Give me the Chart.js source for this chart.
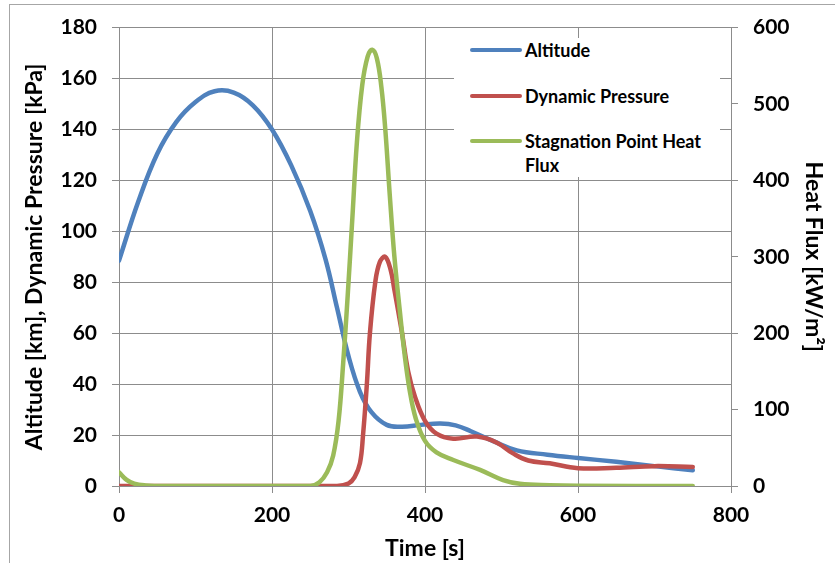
<!DOCTYPE html>
<html lang="en">
<head>
  <meta charset="UTF-8">
  <title>Altitude, Dynamic Pressure and Heat Flux</title>
  <script src="https://cdn.jsdelivr.net/npm/chart.js"></script>
  <style>
    body {
      margin: 0;
      background: #fff;
      font-family: Lato, "Open Sans", sans-serif;
    }

    #wrap {
      position: relative;
      width: 835px;
      height: 563px;
      overflow: hidden;
    }

    #frame {
      position: absolute;
      left: 9px;
      top: 4px;
      width: 900px;
      height: 700px;
      border: 1px solid #a6a6a6;
    }

    canvas {
      position: absolute;
      left: 0;
      top: 0;
    }

    #legend {
      position: absolute;
      left: 454px;
      top: 38px;
      width: 266px;
      height: 139px;
      background: #fff;
    }

    .item {
      position: absolute;
      left: 16px;
      font-weight: bold;
      font-size: 18px;
      line-height: 24px;
      color: #000;
    }

    .swatch {
      position: absolute;
      left: 0;
      top: 10px;
      width: 52px;
      height: 4px;
      border-radius: 2px;
    }

    .item span {
      display: block;
      margin-left: 55px;
      width: 190px;
    }
  </style>
</head>
<body>
  <div id="wrap">
    <div id="frame"></div>
    <canvas id="chart" width="835" height="563"></canvas>
    <div id="legend"></div>
  </div>

  <script>
    // values
    const altTime = [0, 25, 50, 75, 100, 125, 150, 175, 200, 225, 250, 270, 285, 300, 315, 330, 350, 370, 395, 420, 440, 460, 490, 520, 560, 600, 650, 700, 750];
    const altitude = [88.5, 111.5, 130.5, 143, 150.8, 155, 154.5, 149.5, 140, 126, 108, 89, 70, 51, 37, 29, 24, 23.3, 24, 24.5, 23.8, 21.5, 17.5, 14, 12.3, 11, 9.5, 7.8, 6.2];

    const dynTime = [0, 200, 285, 300, 308, 315, 319, 324, 328, 335, 341, 348, 355, 360, 370, 378, 387, 400, 415, 437, 468, 494, 515, 535, 563, 600, 650, 700, 750];
    const dynPressure = [0, 0, 0, 1, 3.5, 9, 20, 40, 60, 80, 88, 90, 85, 77, 60, 45, 35, 25.6, 20.6, 18.6, 19.4, 17, 12.8, 10, 8.9, 7, 7.2, 7.8, 7.5];

    const fluxTime = [0, 10, 20, 35, 60, 250, 262, 272, 280, 287, 293, 299, 305, 311, 318, 325, 331, 337, 343, 348, 354, 360, 367, 373, 380, 388, 400, 415, 437, 472, 502, 524, 563, 600, 750];
    const heatFlux = [18, 8, 3, 0.8, 0, 0, 5, 18, 40, 85, 160, 250, 350, 450, 525, 562, 571, 560, 522, 468, 380, 300, 230, 175, 125, 88, 59, 44, 34, 21, 7.8, 3, 1, 0.3, 0];

    const seriesNames = ['Altitude', 'Dynamic Pressure', 'Stagnation Point Heat Flux'];
    const seriesColors = ['#4f81bd', '#c0504d', '#9bbb59'];

    const gridColor = '#8c8c8c';
    const tickFont = { family: 'Lato', weight: 'bold', size: 21 };
    const titleFont = { family: 'Lato', weight: 'bold', size: 23 };

    function points(xs, ys) {
      return xs.map((x, i) => ({ x: x, y: ys[i] }));
    }

    function line(i, xs, ys, axis, order) {
      return {
        label: seriesNames[i],
        data: points(xs, ys),
        yAxisID: axis,
        borderColor: seriesColors[i],
        backgroundColor: seriesColors[i],
        borderWidth: 4.5,
        pointRadius: 0,
        tension: 0.4,
        borderCapStyle: 'round',
        borderJoinStyle: 'round',
        fill: false,
        order: order
      };
    }

    new Chart(document.getElementById('chart'), {
      type: 'line',
      data: {
        datasets: [
          line(0, altTime, altitude, 'y', 2),
          line(1, dynTime, dynPressure, 'y', 1),
          line(2, fluxTime, heatFlux, 'y1', 0)
        ]
      },
      options: {
        responsive: false,
        animation: false,
        layout: { padding: { top: 22, left: 0, right: 0, bottom: 0 } },
        plugins: {
          legend: { display: false },
          tooltip: { enabled: false }
        },
        scales: {
          x: {
            type: 'linear',
            min: 0,
            max: 800,
            afterFit: s => { s.height = 77; },
            ticks: { stepSize: 200, color: '#000', font: tickFont, padding: 10, maxRotation: 0 },
            grid: { color: gridColor, tickLength: 7 },
            border: { color: gridColor },
            title: { display: true, text: 'Time [s]', color: '#000', font: titleFont, padding: { top: 0, bottom: 1 } }
          },
          y: {
            position: 'left',
            min: 0,
            max: 180,
            afterFit: s => { s.width = 119; },
            ticks: { stepSize: 20, color: '#000', font: tickFont, padding: 15 },
            grid: { color: gridColor, tickLength: 7 },
            border: { color: gridColor },
            title: { display: true, text: 'Altitude [km], Dynamic Pressure [kPa]', color: '#000', font: titleFont, padding: { top: 21, bottom: 0 } }
          },
          y1: {
            position: 'right',
            min: 0,
            max: 600,
            afterFit: s => { s.width = 104; },
            ticks: { stepSize: 100, color: '#000', font: tickFont, padding: 15 },
            grid: { drawOnChartArea: false, color: gridColor, tickLength: 7 },
            border: { color: gridColor },
            title: { display: true, text: 'Heat Flux [kW/m²]', color: '#000', font: titleFont, padding: { top: 8, bottom: 0 } }
          }
        }
      }
    });

    // legend box drawn over the plot, as in the reference
    const legend = document.getElementById('legend');
    const rowTops = [0, 46, 91];
    seriesNames.forEach((name, i) => {
      const item = document.createElement('div');
      item.className = 'item';
      item.style.top = rowTops[i] + 'px';
      const sw = document.createElement('div');
      sw.className = 'swatch';
      sw.style.background = seriesColors[i];
      const txt = document.createElement('span');
      txt.textContent = name;
      item.appendChild(sw);
      item.appendChild(txt);
      legend.appendChild(item);
    });
  </script>
</body>
</html>
